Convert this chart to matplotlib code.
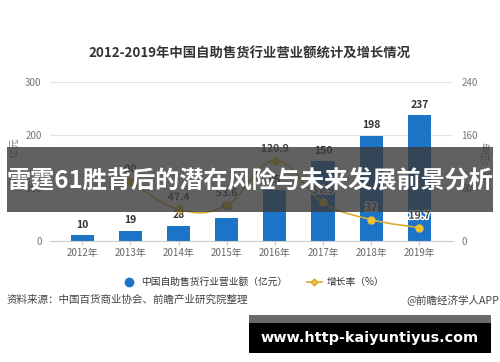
import numpy as np
import matplotlib
matplotlib.use("Agg")
import matplotlib.pyplot as plt
from matplotlib.path import Path
from matplotlib.patches import PathPatch, Rectangle
from matplotlib.lines import Line2D
import matplotlib.patheffects as pe

plt.rcParams['font.family'] = ['Noto Sans CJK SC', 'DejaVu Sans']

years = ["2012年", "2013年", "2014年", "2015年", "2016年", "2017年", "2018年", "2019年"]
revenue = [10, 19, 28, 43, 95, 150, 198, 237]
growth_years = [1, 2, 3, 4, 5, 6, 7]
growth = [90, 47.4, 53.6, 120.9, 57.9, 32, 19.7]

bar_color = "#1b74c6"
line_color = "#d6ad2e"
marker_color = "#f0c232"


def smooth_path(xs, ys, k=0.2):
    # catmull-rom style bezier through the data points
    xs = np.asarray(xs, float)
    ys = np.asarray(ys, float)
    n = len(xs)
    verts = [(xs[0], ys[0])]
    codes = [Path.MOVETO]
    for i in range(n - 1):
        p0 = max(i - 1, 0)
        p3 = min(i + 2, n - 1)
        c1 = (xs[i] + (xs[i + 1] - xs[p0]) * k, ys[i] + (ys[i + 1] - ys[p0]) * k)
        c2 = (xs[i + 1] - (xs[p3] - xs[i]) * k, ys[i + 1] - (ys[p3] - ys[i]) * k)
        verts += [c1, c2, (xs[i + 1], ys[i + 1])]
        codes += [Path.CURVE4] * 3
    return Path(verts, codes)


def main():
    fig = plt.figure(figsize=(5, 3.62), dpi=100)
    ax = fig.add_axes([0.1, 0.335, 0.806, 0.439])
    x = np.arange(len(years))

    ax.bar(x, revenue, width=0.48, color=bar_color, zorder=2)
    for xi, v in zip(x, revenue):
        ax.annotate(str(v), (xi, v), xytext=(0, 4), textcoords="offset points",
                    ha="center", va="bottom", fontsize=7.5, fontweight="bold", color="#333333")

    ax.set_xlim(-0.67, 7.7)
    ax.set_ylim(0, 300)
    ax.set_yticks([0, 100, 200, 300])
    ax.set_xticks(x)
    ax.set_xticklabels(years)
    ax.grid(axis="y", color="#e3e3e3", linewidth=0.8, zorder=0)
    for s in ["top", "right", "left"]:
        ax.spines[s].set_visible(False)
    ax.spines["bottom"].set_color("#cccccc")
    ax.tick_params(axis="y", length=0, labelsize=7, colors="#777777", pad=6)
    ax.tick_params(axis="x", length=3, color="#cccccc", labelsize=7, labelcolor="#666666", pad=2)
    ax.set_ylabel("单位：亿元", fontsize=7, color="#777777", labelpad=4)

    ax2 = ax.twinx()
    ax2.set_ylim(0, 240)
    ax2.set_yticks([0, 80, 160, 240])
    for s in ax2.spines.values():
        s.set_visible(False)
    ax2.tick_params(axis="y", length=0, labelsize=7, colors="#777777", pad=6)
    ax2.set_ylabel("单位：%", fontsize=7, color="#777777", rotation=-90, labelpad=8)

    ax2.add_patch(PathPatch(smooth_path(growth_years, growth), facecolor="none",
                            edgecolor=line_color, linewidth=1.2, zorder=3))
    ax2.plot(growth_years, growth, linestyle="none", marker="o", markersize=5,
             color=marker_color, zorder=4)
    halo = [pe.withStroke(linewidth=2, foreground="white")]
    for xi, v in zip(growth_years, growth):
        ax2.annotate(f"{v:g}", (xi, v), xytext=(0, 5), textcoords="offset points",
                     ha="center", va="bottom", fontsize=7.5, fontweight="bold",
                     color="#444444", path_effects=halo, zorder=5)

    fig.text(0.5, 0.851, "2012-2019年中国自助售货行业营业额统计及增长情况",
             ha="center", va="center", fontsize=9.6, fontweight="bold", color="#333333")

    handles = [
        Line2D([], [], linestyle="none", marker="o", markersize=6, color=bar_color),
        Line2D([], [], color=line_color, marker="D", markersize=3.5,
               markerfacecolor=marker_color, linewidth=1.2),
    ]
    fig.legend(handles, ["中国自助售货行业营业额（亿元）", "增长率（%）"],
               loc="center", bbox_to_anchor=(0.506, 0.221), ncol=2, frameon=False,
               fontsize=7, handlelength=1.5, handletextpad=0.5, columnspacing=2.0,
               labelcolor="#333333")

    fig.text(0.014, 0.171, "资料来源：中国百货商业协会、前瞻产业研究院整理",
             ha="left", va="center", fontsize=7.6, color="#444444")
    fig.text(0.998, 0.171, "@前瞻经济学人APP",
             ha="right", va="center", fontsize=7.6, color="#444444")

    # overlay banner
    fig.add_artist(Rectangle((0.014, 1 - 212 / 362), 0.972, 65 / 362,
                             transform=fig.transFigure, facecolor="#3a3a3a",
                             alpha=0.8, edgecolor="none", zorder=10))
    fig.text(0.5, 1 - 181 / 362, "雷霆61胜背后的潜在风险与未来发展前景分析",
             ha="center", va="center", fontsize=17.4, fontweight="bold",
             color="white", zorder=11)

    # url box
    fig.add_artist(Rectangle((0.498, 1 - 353 / 362), 0.484, 38 / 362,
                             transform=fig.transFigure, facecolor="black",
                             edgecolor="none", zorder=10))
    fig.add_artist(Rectangle((0.498, 1 - 323 / 362), 0.484, 8 / 362,
                             transform=fig.transFigure, facecolor="#6a6a6a",
                             edgecolor="none", zorder=10))
    fig.text(0.74, 1 - 338 / 362, "www.http-kaiyuntiyus.com",
             ha="center", va="center", fontsize=10.4, fontweight="bold",
             color="white", family="DejaVu Sans", zorder=11)

    fig.savefig("out.png", dpi=100)


if __name__ == "__main__":
    main()
